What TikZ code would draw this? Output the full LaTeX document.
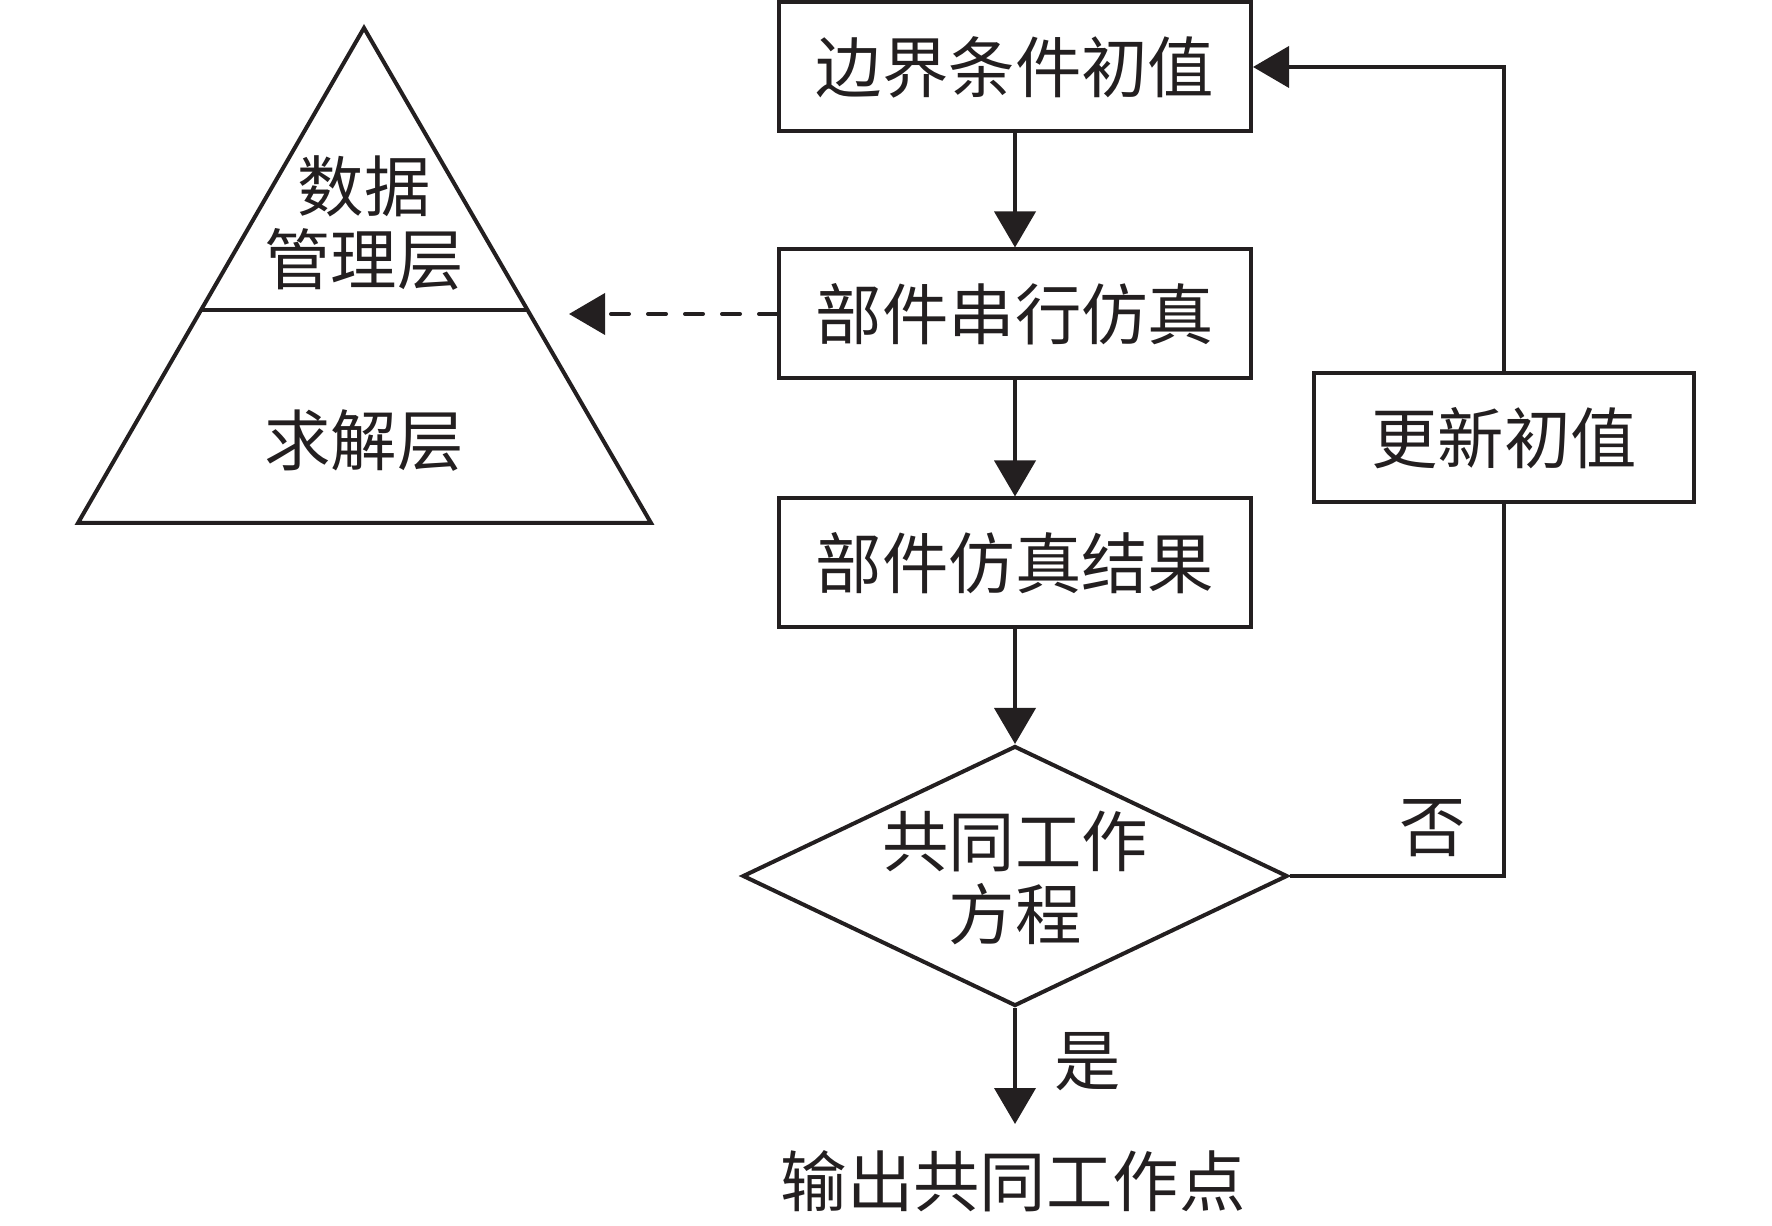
\documentclass[tikz,border=0pt]{standalone}
\usepackage{fontspec}
\setmainfont{Noto Sans CJK SC}
\usetikzlibrary{arrows.meta,shapes.geometric}
\definecolor{lc}{RGB}{35,31,32}
\newcommand\fs{\fontsize{16.6pt}{18.4pt}\selectfont}
\begin{document}
\begin{tikzpicture}[x=0.25pt,y=-0.25pt,
  line width=1pt, color=lc,
  box/.style={draw, minimum width=118pt, minimum height=32.25pt, inner sep=0, font=\fs},
  lbl/.style={inner sep=0, font=\fs, align=center},
  arr/.style={-{Triangle[length=9pt,width=10.25pt]}},
]
\useasboundingbox (0,0) rectangle (1772,1226);
% flowchart
\node[box] (b1) at (1015,67) {边界条件初值};
\node[box] (b2) at (1015,314) {部件串行仿真};
\node[box] (b3) at (1015,563) {部件仿真结果};
\node[draw, diamond, minimum width=136.25pt, minimum height=65pt, inner sep=0] (dia) at (1015,876) {};
\node[lbl] (dt) at (1015,878) {共同工作\\方程};
\node[lbl] (out) at (1013,1181) {输出共同工作点};
\coordinate (outtop) at (1015,1124);
\node[box, minimum width=95pt] (up) at (1504,438) {更新初值};
\node[lbl] (yes) at (1088,1062) {是};
\node[lbl] (no) at (1433,828) {否};
\draw[arr] (b1) -- (b2);
\draw[arr] (b2) -- (b3);
\draw[arr] (b3) -- (dia.north);
\draw[arr] (dia.south) -- (outtop);
\draw (dia.east) -| (up.south);
\draw[arr] (up.north) |- (b1.east);
% pyramid
\coordinate (apex) at (364,28);
\coordinate (bl) at (78,523);
\coordinate (br) at (651,523);
\coordinate (dl) at (202,310);
\coordinate (dr) at (528,310);
\draw[line join=miter] (apex) -- (bl) -- (br) -- cycle;
\draw (dl) -- (dr);
\node[lbl] (t1) at (364,223) {数据\\管理层};
\node[lbl] (t2) at (364,441) {求解层};
\coordinate (dtip) at (569,314);
\draw[arr, line cap=round, dash pattern=on 4.5pt off 4.75pt] (b2.west) -- (dtip);
\end{tikzpicture}
\end{document}
